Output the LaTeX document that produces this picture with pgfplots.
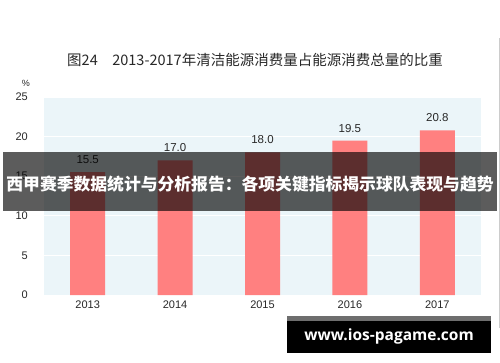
\documentclass[border=0pt]{standalone}
\usepackage{fontspec}
\usepackage{pgfplots}
\pgfplotsset{compat=1.18}
\setmainfont{Liberation Sans}
\newfontfamily\cjk{Noto Sans CJK SC}
\newfontfamily\wm{Open Sans}
\definecolor{barred}{RGB}{255,128,128}
\definecolor{plotbg}{RGB}{235,245,249}
\definecolor{tickc}{RGB}{40,40,40}
\begin{document}
\begin{tikzpicture}[x=1pt,y=1pt]
\path[fill=white] (0,0) rectangle (500,362);
\begin{axis}[
  at={(44pt,67pt)}, anchor=south west,
  scale only axis, width=437pt, height=198pt,
  xmin=-0.5, xmax=4.5, ymin=0, ymax=25,
  axis background/.style={fill=plotbg},
  axis line style={draw=none},
  ytick={0,5,10,15,20,25},
  xtick=data, xticklabels={2013,2014,2015,2016,2017},
  major tick length=0pt,
  ymajorgrids, grid style={white, line width=1pt},
  /pgf/number format/assume math mode=true,
  ticklabel style={font=\fontsize{11}{11}\selectfont, text=tickc},
  yticklabel style={inner sep=0pt, anchor=east, xshift=-16pt},
  xticklabel style={inner sep=0pt, anchor=north, yshift=-6pt},
  ybar, bar width=35pt,
  nodes near coords={\pgfmathprintnumber[fixed,fixed zerofill,precision=1]{\pgfplotspointmeta}},
  every node near coord/.append style={font=\fontsize{11.5}{11.5}\selectfont, text=tickc, anchor=center, yshift=12.5pt, inner sep=0pt},
]
\addplot[fill=barred, draw=none] coordinates {(0,15.5) (1,17.0) (2,18.0) (3,19.5) (4,20.8)};
\end{axis}
\node[font=\cjk\fontsize{14.5}{14.5}\selectfont, text=tickc] at (255,302) {图24\hspace{1em}2013-2017年清洁能源消费量占能源消费总量的比重};
\node[font=\fontsize{9}{9}\selectfont, text=tickc] at (26,279) {\%};
\draw[gray!40, line width=1pt] (499,34) -- (499,324);
\fill[black, opacity=0.64] (3,151) rectangle (497,210);
\node[font=\cjk\bfseries\fontsize{16.8}{16.8}\selectfont, text=white] at (250,178) {西甲赛季数据统计与分析报告：各项关键指标揭示球队表现与趋势};
\fill[black!57] (287,41) rectangle (491,46);
\fill[black] (287,9.4) rectangle (491,41);
\node[font=\wm\bfseries\fontsize{15.5}{15.5}\selectfont, text=white] at (389,26) {www.ios-pagame.com};
\end{tikzpicture}
\end{document}
